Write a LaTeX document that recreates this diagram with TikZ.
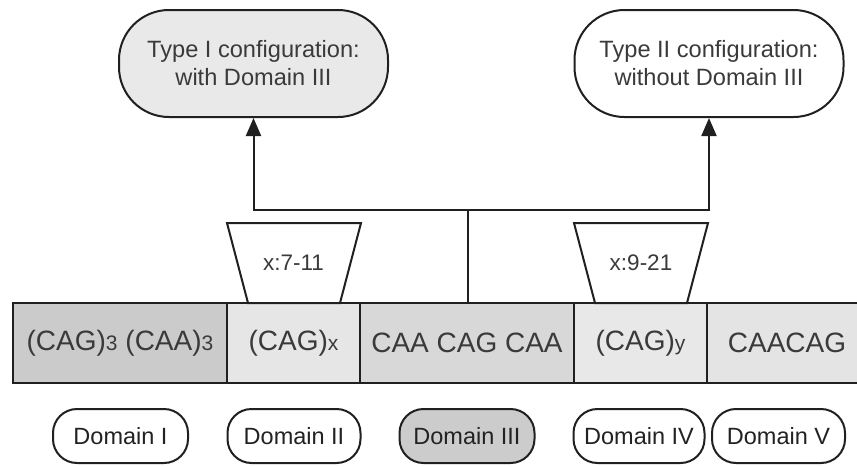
\documentclass[tikz,border=0pt]{standalone}
\usepackage{fontspec}
\setmainfont{Liberation Sans}
\usetikzlibrary{arrows.meta}
\definecolor{lc}{HTML}{202020}
\definecolor{txt}{HTML}{3A3A3A}
\definecolor{txtd}{HTML}{222222}
\definecolor{gA}{HTML}{CBCBCB}
\definecolor{gB}{HTML}{E6E6E6}
\definecolor{gC}{HTML}{D8D8D8}
\definecolor{gD}{HTML}{E8E8E8}
\definecolor{gE}{HTML}{E4E4E4}
\definecolor{gT}{HTML}{E9E9E9}
\definecolor{gP}{HTML}{CCCCCC}
\newcommand{\smallsub}[1]{{\fontsize{21}{24}\selectfont #1}}
\begin{document}
\begin{tikzpicture}[x=1pt,y=-1pt,
  seg/.style={draw=lc, line width=2pt, minimum height=80pt, inner sep=0pt, text=txt, font=\fontsize{28}{32}\selectfont},
  topnode/.style={draw=lc, line width=2pt, rounded corners=50pt, minimum width=269pt, minimum height=107pt, inner sep=0pt, align=center, font=\fontsize{23.6}{28}\selectfont, text=txt},
  pill/.style={draw=lc, line width=2pt, rounded corners=24pt, minimum height=54pt, inner sep=0pt, font=\fontsize{23.5}{26}\selectfont, text=txtd},
  trap/.style={draw=lc, line width=2pt, fill=white},
  traptext/.style={inner sep=0pt, text=txt, font=\fontsize{22.5}{26}\selectfont},
  conn/.style={draw=lc, line width=2pt},
  arr/.style={conn, -{Triangle[width=15pt,length=18pt]}}
]
\clip (0,0) rectangle (857,466);
\fill[white] (0,0) rectangle (857,466);

% top configuration nodes
\node[topnode, fill=gT] (t1) at (253.5,63.5) {Type I configuration:\\with Domain III};
\node[topnode, fill=white] (t2) at (709,63.5) {Type II configuration:\\without Domain III};

% sequence segments
\node[seg, fill=gA, minimum width=214pt] (b1) at (120,343) {(CAG)\smallsub{3} (CAA)\smallsub{3}};
\node[seg, fill=gB, minimum width=133pt] (b2) at (293.5,343) {(CAG)\smallsub{x}};
\node[seg, fill=gC, minimum width=214pt] (b3) at (467,343) {CAA CAG CAA};
\node[seg, fill=gD, minimum width=133pt] (b4) at (640.5,343) {(CAG)\smallsub{y}};
\node[seg, fill=gE, minimum width=160pt] (b5) at (787,343) {CAACAG};

% trapezoids
\draw[trap] (227,223) -- (361,223) -- (340,303) -- (248,303) -- cycle;
\node[traptext] (x1) at (293.5,263) {x:7-11};
\draw[trap] (574,223) -- (708,223) -- (687,303) -- (595,303) -- cycle;
\node[traptext] (x2) at (641,263) {x:9-21};

% connectors
\coordinate (j) at (468,210);
\draw[conn] (b3.north -| j) -- (j);
\draw[arr] (j) -| (t1.south);
\draw[arr] (j) -| (t2.south);

% domain labels
\node[pill, minimum width=135pt] (d1) at (120.5,436) {Domain I};
\node[pill, minimum width=133pt] (d2) at (294,436) {Domain II};
\node[pill, minimum width=135pt, fill=gP] (d3) at (467,436) {Domain III};
\node[pill, minimum width=131pt] (d4) at (639,436) {Domain IV};
\node[pill, minimum width=133pt] (d5) at (778.5,436) {Domain V};
\end{tikzpicture}
\end{document}
